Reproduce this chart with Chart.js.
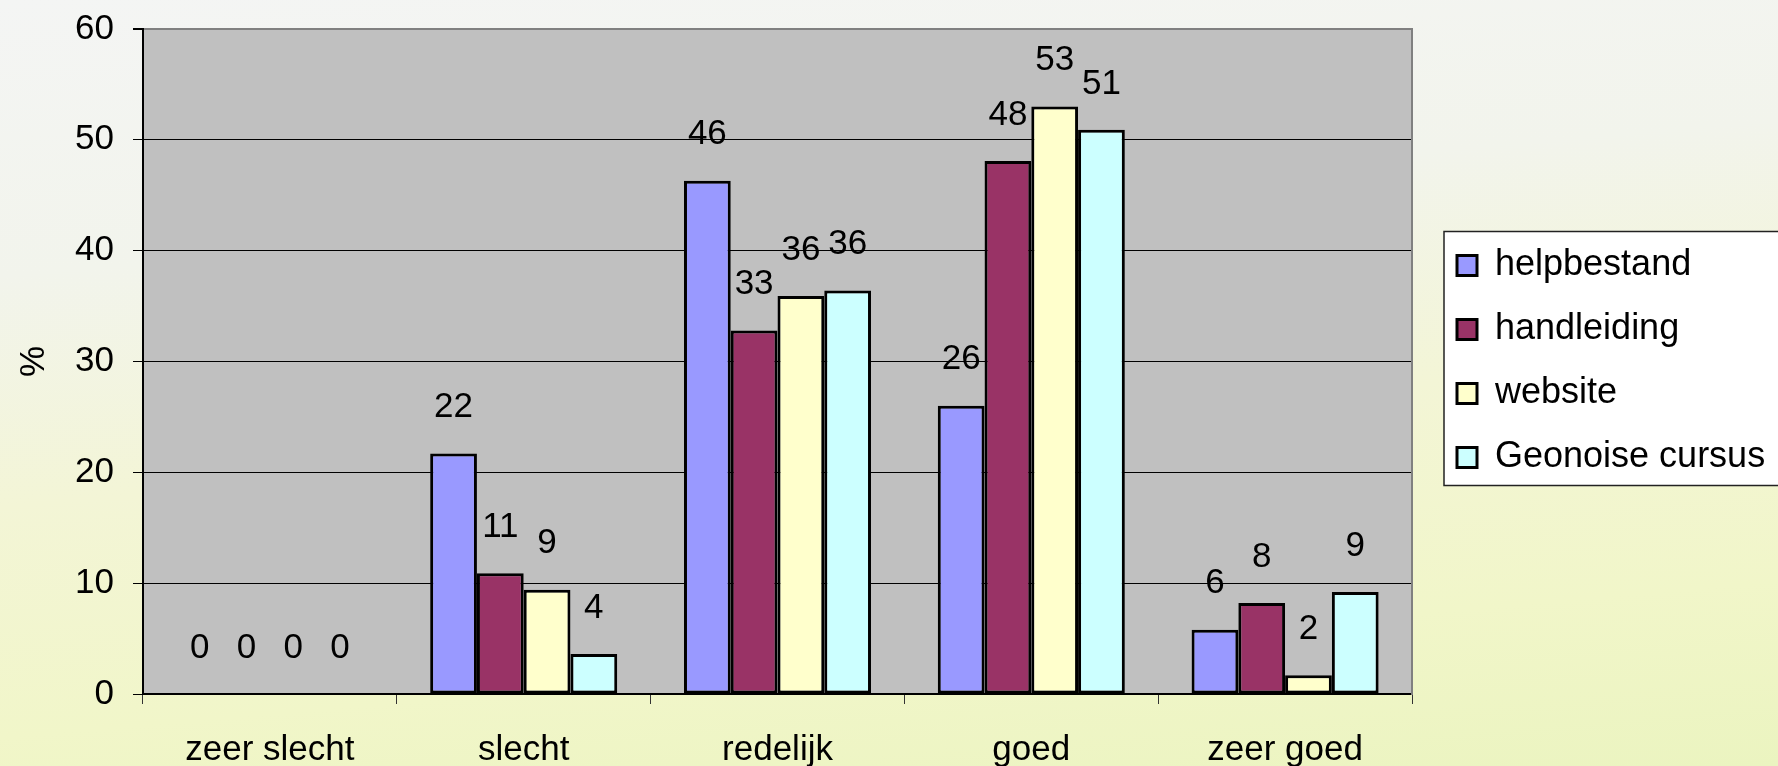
<!DOCTYPE html>
<html>
<head>
<meta charset="utf-8">
<title>Beoordeling hulpmiddelen</title>
<script src="https://cdn.jsdelivr.net/npm/chart.js@4.4.1/dist/chart.umd.min.js"></script>
<style>
  html, body { margin: 0; padding: 0; }
  body {
    width: 1778px;
    height: 766px;
    overflow: hidden;
    background: linear-gradient(175deg, #f4f5f4 0%, #f2f4ec 30%, #f3f5d6 55%, #f1f6c9 80%, #ebf4c0 100%);
  }
  #wrap { position: relative; width: 1778px; height: 766px; }
</style>
</head>
<body>
<div id="wrap"><canvas id="myChart"></canvas></div>
<script>
// data
const categories = ["zeer slecht", "slecht", "redelijk", "goed", "zeer goed"];
const seriesNames = ["helpbestand", "handleiding", "website", "Geonoise cursus"];
const helpbestand = [0, 21.7, 46.3, 26.0, 5.8];
const handleiding = [0, 10.9, 32.8, 48.1, 8.2];
const website = [0, 9.4, 35.9, 53.0, 1.7];
const geonoise = [0, 3.6, 36.4, 50.9, 9.2];
const yTicks = [0, 10, 20, 30, 40, 50, 60];

const fillColors = ["#9999ff", "#993366", "#ffffcc", "#ccffff"];
const FONT = "'Liberation Sans', Arial, sans-serif";
const FS = 35;   // axis + value labels
const LFS = 36;  // legend

Chart.defaults.font.family = FONT;
Chart.defaults.color = "#000";

// legend should start at x=1429, work out right padding from text width
const probe = document.createElement("canvas").getContext("2d");
probe.font = LFS + "px " + FONT;
const maxText = Math.max(...seriesNames.map(t => probe.measureText(t).width));
const legendPad = 28;
const legendW = legendPad + 20 + LFS / 2 + maxText + 10;
const padRight = Math.max(0, 1778 - 1429 - legendW);

// grey plot area + white legend box
const plotBackground = {
  id: "plotBackground",
  beforeDraw(chart) {
    const { ctx, chartArea: a } = chart;
    ctx.save();
    ctx.fillStyle = "#c0c0c0";
    ctx.fillRect(a.left, a.top, a.right - a.left, a.bottom - a.top);

    const boxes = chart.legend && chart.legend.legendHitBoxes;
    if (boxes && boxes.length) {
      const first = boxes[0];
      const last = boxes[boxes.length - 1];
      const x = first.left - 13;
      const top = first.top + LFS / 2 - 34;
      const bottom = last.top + LFS / 2 + 28;
      ctx.fillStyle = "#ffffff";
      ctx.fillRect(x, top, chart.width - x + 10, bottom - top);
      ctx.strokeStyle = "#222";
      ctx.lineWidth = 1.5;
      ctx.strokeRect(x, top, chart.width - x + 10, bottom - top);
    }
    ctx.restore();
  }
};

// value above each bar
const valueLabels = {
  id: "valueLabels",
  afterDatasetsDraw(chart) {
    const ctx = chart.ctx;
    ctx.save();
    ctx.font = FS + "px " + FONT;
    ctx.fillStyle = "#000";
    ctx.textAlign = "center";
    ctx.textBaseline = "middle";
    chart.data.datasets.forEach((ds, i) => {
      chart.getDatasetMeta(i).data.forEach((bar, j) => {
        ctx.fillText(Math.round(ds.data[j]), bar.x, bar.y - 46);
      });
    });
    ctx.restore();
  }
};

const allSeries = [helpbestand, handleiding, website, geonoise];

new Chart(document.getElementById("myChart"), {
  type: "bar",
  data: {
    labels: categories,
    datasets: allSeries.map((vals, i) => ({
      label: seriesNames[i],
      data: vals,
      backgroundColor: fillColors[i],
      borderColor: "#000",
      borderWidth: 3,
      borderSkipped: false,
      barPercentage: 1,
      categoryPercentage: 0.737
    }))
  },
  options: {
    responsive: true,
    maintainAspectRatio: false,
    animation: false,
    layout: { autoPadding: false, padding: { left: 13, top: 29, right: padRight, bottom: 0 } },
    plugins: {
      tooltip: { enabled: false },
      legend: {
        position: "right",
        fullSize: false,
        align: "center",
        maxWidth: 420,
        labels: {
          color: "#000",
          font: { size: LFS },
          boxWidth: 20,
          boxHeight: 20,
          padding: legendPad
        }
      }
    },
    scales: {
      x: {
        grid: {
          display: true,
          drawOnChartArea: false,
          drawTicks: true,
          tickLength: 10,
          color: "#333",
          offset: true
        },
        border: { color: "#000", width: 2 },
        ticks: { color: "#000", font: { size: FS }, padding: 25, maxRotation: 0 },
        afterFit(s) {
          s.height = 72;
          s.paddingLeft = 0;
          s.paddingRight = 0;
        }
      },
      y: {
        min: 0,
        max: 60,
        afterBuildTicks(s) { s.ticks = yTicks.map(v => ({ value: v })); },
        ticks: { color: "#000", font: { size: FS }, padding: 19 },
        grid: {
          color: c => (c.tick && c.tick.value === 60 ? "#808080" : "#000"),
          lineWidth: c => (c.tick && c.tick.value === 60 ? 2 : 1),
          tickColor: "#000",
          tickLength: 10
        },
        border: { color: "#000", width: 2 },
        title: { display: true, text: "%", color: "#000", font: { size: FS }, padding: 0 },
        afterFit(s) {
          s.width = 130;
          // don't let the tick labels push the plot area down
          s.paddingTop = 0;
          s.paddingBottom = 0;
        }
      },
      yRight: {
        position: "right",
        display: true,
        grid: { display: false },
        ticks: { display: false },
        border: { color: "#808080", width: 2 },
        afterFit(s) {
          s.width = 17;
          s.paddingTop = 0;
          s.paddingBottom = 0;
        }
      }
    }
  },
  plugins: [plotBackground, valueLabels]
});
</script>
</body>
</html>
